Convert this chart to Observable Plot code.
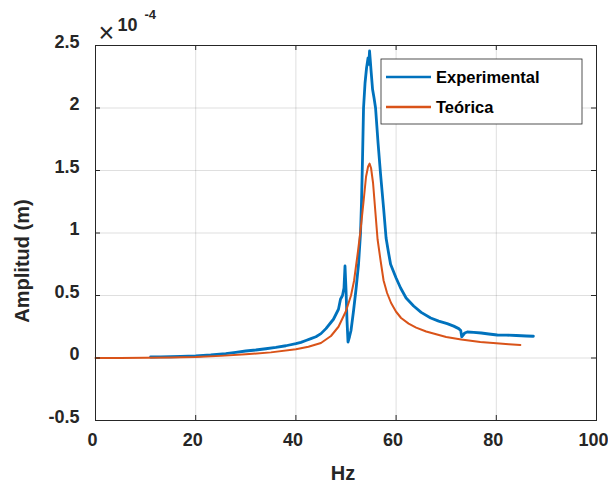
<!DOCTYPE html>
<html><head><meta charset="utf-8">
<script src="https://cdn.jsdelivr.net/npm/d3@7"></script>
<script src="https://cdn.jsdelivr.net/npm/@observablehq/plot@0.6"></script>
<style>body{margin:0;background:#fff;} svg{display:block;}</style>
</head><body><div id="chart"></div>
<script>
const seriesNames = ["Experimental", "Teórica"];
const seriesColors = ["#0072BD", "#D95319"];
const xTicks = [0, 20, 40, 60, 80, 100];
const yTicks = [-0.5, 0, 0.5, 1, 1.5, 2, 2.5];
const yTickLabels = ["-0.5", "0", "0.5", "1", "1.5", "2", "2.5"];

const expHz = [11, 13, 15, 17, 20, 23, 26, 28, 30, 32, 34, 36, 38, 40, 41, 42, 43, 44, 45, 46, 46.9, 47.5, 48, 48.5, 48.9, 49.3, 49.6, 49.8, 50.0, 50.2, 50.4, 50.7, 51.0, 51.5, 52.0, 52.5, 52.9, 53.1, 53.3, 53.5, 53.8, 54.1, 54.4, 54.55, 54.7, 54.85, 55.0, 55.3, 55.6, 55.9, 56.4, 56.9, 57.5, 58.0, 58.5, 58.9, 59.5, 60.0, 60.9, 62.0, 63.5, 65.0, 66.9, 68.5, 70.2, 71.5, 72.5, 72.9, 73.1, 73.3, 73.7, 74.2, 75.5, 77.0, 78.5, 80.2, 82.0, 84.0, 86.0, 87.4];
const expAmp = [0.008, 0.009, 0.01, 0.012, 0.016, 0.024, 0.035, 0.045, 0.056, 0.064, 0.074, 0.085, 0.098, 0.115, 0.125, 0.14, 0.155, 0.17, 0.195, 0.235, 0.28, 0.31, 0.35, 0.39, 0.47, 0.5, 0.56, 0.736, 0.55, 0.3, 0.128, 0.17, 0.22, 0.376, 0.55, 0.75, 1.0, 1.25, 1.6, 2.0, 2.2, 2.32, 2.4, 2.35, 2.456, 2.38, 2.3, 2.15, 2.08, 2.0, 1.72, 1.47, 1.2, 0.96, 0.84, 0.75, 0.69, 0.64, 0.56, 0.48, 0.416, 0.365, 0.32, 0.295, 0.275, 0.255, 0.235, 0.22, 0.17, 0.18, 0.2, 0.208, 0.205, 0.2, 0.192, 0.184, 0.183, 0.18, 0.176, 0.174];

const teoHz = [0, 5, 10, 15, 20, 25, 30, 35, 40, 42.5, 45, 47, 48.5, 50, 51, 51.6, 52.4, 52.9, 53.5, 54.0, 54.4, 54.7, 55.0, 55.4, 55.9, 56.3, 56.9, 57.5, 58.2, 59.0, 60.0, 61.0, 62.5, 64, 66, 68, 70, 73, 76.8, 80, 82.5, 84.8];
const teoAmp = [0, 0.001, 0.002, 0.004, 0.008, 0.017, 0.03, 0.045, 0.07, 0.09, 0.12, 0.176, 0.25, 0.376, 0.5, 0.616, 0.856, 1.02, 1.25, 1.45, 1.53, 1.555, 1.52, 1.4, 1.15, 0.95, 0.78, 0.62, 0.52, 0.44, 0.37, 0.32, 0.275, 0.243, 0.212, 0.19, 0.168, 0.148, 0.128, 0.118, 0.11, 0.104];

const W = 608, H = 484, mL = 95, mR = 12, mT = 45, mB = 64;
const innerW = W - mL - mR, innerH = H - mT - mB;
const tk = 5;
const axisColor = "#262626";

const expData = expHz.map((x, i) => ({x, y: expAmp[i]}));
const teoData = teoHz.map((x, i) => ({x, y: teoAmp[i]}));

const chart = Plot.plot({
  width: W, height: H,
  marginLeft: mL, marginRight: mR, marginTop: mT, marginBottom: mB,
  style: {fontFamily: "'Liberation Sans', Arial, sans-serif", fontWeight: "bold", fontSize: "18px", color: axisColor, background: "#fff"},
  x: {domain: [0, 100]},
  y: {domain: [-0.5, 2.5]},
  marks: [
    Plot.gridX(xTicks, {stroke: axisColor, strokeOpacity: 0.15}),
    Plot.gridY(yTicks, {stroke: axisColor, strokeOpacity: 0.15}),
    Plot.line(expData, {x: "x", y: "y", stroke: seriesColors[0], strokeWidth: 2.8}),
    Plot.line(teoData, {x: "x", y: "y", stroke: seriesColors[1], strokeWidth: 2}),
    Plot.frame({stroke: axisColor, strokeWidth: 1}),
    Plot.ruleX(xTicks, {insetTop: innerH - tk, stroke: axisColor}),
    Plot.ruleX(xTicks, {insetBottom: innerH - tk, stroke: axisColor}),
    Plot.ruleY(yTicks, {insetRight: innerW - tk, stroke: axisColor}),
    Plot.ruleY(yTicks, {insetLeft: innerW - tk, stroke: axisColor}),
    Plot.axisX(xTicks, {tickSize: 0, tickPadding: 13, dx: -3, label: null, fill: axisColor}),
    Plot.axisY(yTicks, {tickSize: 0, tickPadding: 16, dy: -3.5, label: null, fill: axisColor,
      tickFormat: d => yTickLabels[yTicks.indexOf(d)]}),
    Plot.text(["Hz"], {frameAnchor: "bottom", dx: -3, dy: 59, lineAnchor: "bottom", fontSize: 20, fill: axisColor}),
    Plot.text(["Amplitud (m)"], {frameAnchor: "left", rotate: -90, textAnchor: "middle", dx: -73, dy: 28, fontSize: 20, fill: axisColor}),
    Plot.text(["×"], {frameAnchor: "top-left", dx: 11, dy: -12, fontSize: 27, fontWeight: "normal", textAnchor: "middle", lineAnchor: "middle", fill: axisColor}),
    Plot.text(["10"], {frameAnchor: "top-left", dx: 22, dy: -15, fontSize: 18, textAnchor: "start", lineAnchor: "bottom", fill: axisColor}),
    Plot.text(["-4"], {frameAnchor: "top-left", dx: 49, dy: -27, fontSize: 13, textAnchor: "start", lineAnchor: "bottom", fill: axisColor})
  ]
});

// Legend (box at top-right inside the axes)
const svg = d3.select(chart);
const lg = svg.append("g").attr("transform", "translate(381,59)");
lg.append("rect").attr("width", 201).attr("height", 65).attr("fill", "#fff").attr("stroke", axisColor).attr("stroke-width", 0.8);
seriesNames.forEach((name, i) => {
  const cy = 18 + i * 30;
  lg.append("line").attr("x1", 5).attr("x2", 50).attr("y1", cy).attr("y2", cy)
    .attr("stroke", seriesColors[i]).attr("stroke-width", 2.4);
  lg.append("text").attr("x", 55).attr("y", cy).attr("dy", "0.35em").attr("text-anchor", "start")
    .attr("font-size", 16.5).attr("font-weight", "bold").attr("fill", "#000").text(name);
});

document.getElementById("chart").appendChild(chart);
</script>
</body></html>
